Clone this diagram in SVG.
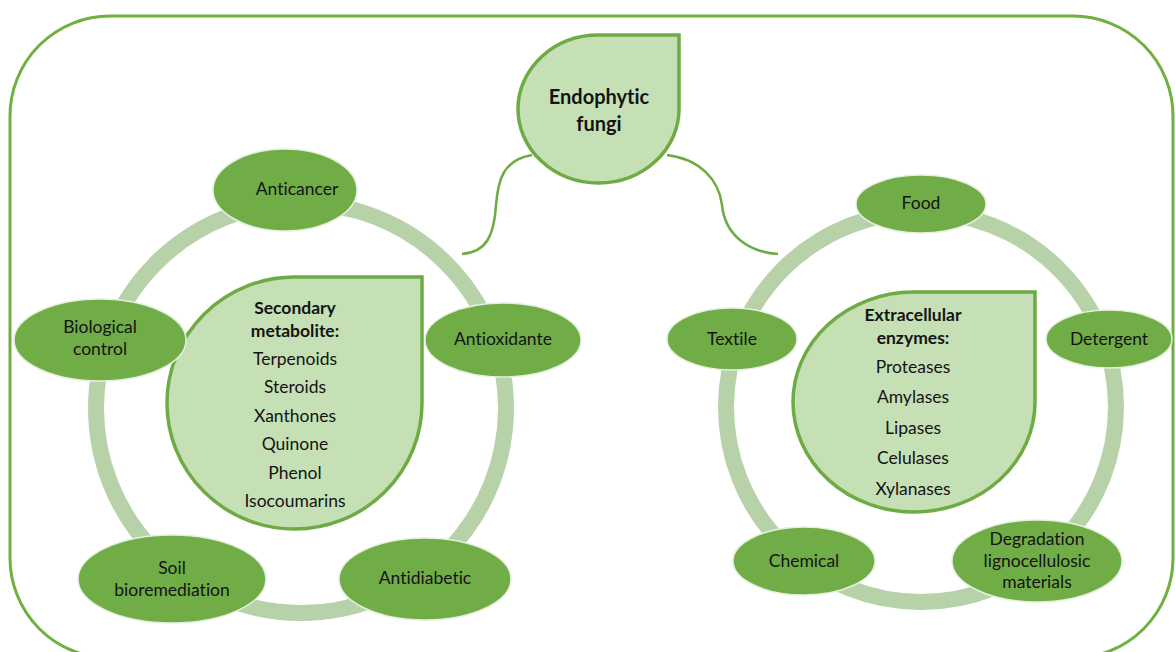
<svg xmlns="http://www.w3.org/2000/svg" width="1175" height="652" viewBox="0 0 1175 652">
  <defs>
    <style>
      .frame { fill: none; stroke: #6eb13f; stroke-width: 3; }
      .ring { fill: none; stroke: #b7d2a8; stroke-width: 16; }
      .conn { fill: none; stroke: #6eab44; stroke-width: 2.5; }
      .drop { fill: #c5e0b4; stroke: #6eab44; stroke-width: 3.5; }
      .oval { fill: #70ad47; stroke: #e6f0de; stroke-width: 1.5; }
      text { font-family: Lato, "Open Sans", "Liberation Sans", sans-serif; fill: #141414; text-anchor: middle; font-variant-ligatures: none; font-feature-settings: "liga" 0, "clig" 0, "dlig" 0; }
      .lbl { font-size: 17.5px; }
      .head { font-size: 17.5px; font-weight: bold; }
      .title { font-size: 20px; font-weight: bold; }
    </style>
  </defs>
  <rect class="frame" x="10" y="16" width="1163" height="642" rx="100" ry="100"/>
  <g id="rings">
    <circle class="ring" cx="301" cy="408" r="205"/>
    <circle class="ring" cx="921" cy="407" r="195"/>
  </g>
  <g id="connectors">
    <path class="conn" d="M532,155 C503,160 498,180 496,205 C494,235 487,252 462,254"/>
    <path class="conn" d="M667,155 C700,159 719,180 722,205 C725,235 748,252 778,254"/>
  </g>
  <g id="endophytic-fungi">
    <path class="drop" d="M598.5,35 L679,35 L679,109 A80.5 74 0 1 1 598.5 35 Z"/>
    <text class="title" x="599" y="104">Endophytic</text>
    <text class="title" x="599" y="131">fungi</text>
  </g>
  <g id="secondary-metabolite">
    <path class="drop" d="M294.5,277 L422,277 L422,403 A127.5 126 0 1 1 294.5 277 Z"/>
    <text class="head" x="295" y="314">Secondary</text>
    <text class="head" x="295" y="337">metabolite:</text>
    <text class="lbl" x="295" y="365">Terpenoids</text>
    <text class="lbl" x="295" y="393">Steroids</text>
    <text class="lbl" x="295" y="422">Xanthones</text>
    <text class="lbl" x="295" y="450">Quinone</text>
    <text class="lbl" x="295" y="479">Phenol</text>
    <text class="lbl" x="295" y="507">Isocoumarins</text>
  </g>
  <g id="extracellular-enzymes">
    <path class="drop" d="M913,292 L1035,292 L1035,402 A121 110 0 1 1 913 292 Z"/>
    <text class="head" x="913" y="321">Extracellular</text>
    <text class="head" x="913" y="344">enzymes:</text>
    <text class="lbl" x="913" y="373">Proteases</text>
    <text class="lbl" x="913" y="403">Amylases</text>
    <text class="lbl" x="913" y="434">Lipases</text>
    <text class="lbl" x="913" y="464">Celulases</text>
    <text class="lbl" x="913" y="495">Xylanases</text>
  </g>
  <g id="anticancer">
    <ellipse class="oval" cx="285" cy="190" rx="72" ry="41"/>
    <text class="lbl" x="297" y="195">Anticancer</text>
  </g>
  <g id="biological-control">
    <ellipse class="oval" cx="100" cy="340" rx="86" ry="41"/>
    <text class="lbl" x="100" y="333">Biological</text>
    <text class="lbl" x="100" y="355">control</text>
  </g>
  <g id="antioxidante">
    <ellipse class="oval" cx="503" cy="340" rx="78" ry="37"/>
    <text class="lbl" x="503" y="345">Antioxidante</text>
  </g>
  <g id="soil-bioremediation">
    <ellipse class="oval" cx="172" cy="579" rx="94" ry="44"/>
    <text class="lbl" x="172" y="574">Soil</text>
    <text class="lbl" x="172" y="596">bioremediation</text>
  </g>
  <g id="antidiabetic">
    <ellipse class="oval" cx="425" cy="579" rx="86" ry="41"/>
    <text class="lbl" x="425" y="584">Antidiabetic</text>
  </g>
  <g id="food">
    <ellipse class="oval" cx="921" cy="204" rx="65" ry="29"/>
    <text class="lbl" x="921" y="209">Food</text>
  </g>
  <g id="textile">
    <ellipse class="oval" cx="732" cy="339" rx="65" ry="31"/>
    <text class="lbl" x="732" y="345">Textile</text>
  </g>
  <g id="detergent">
    <ellipse class="oval" cx="1109" cy="339" rx="63" ry="29"/>
    <text class="lbl" x="1109" y="345">Detergent</text>
  </g>
  <g id="chemical">
    <ellipse class="oval" cx="804" cy="561" rx="71" ry="34"/>
    <text class="lbl" x="804" y="567">Chemical</text>
  </g>
  <g id="degradation">
    <ellipse class="oval" cx="1037" cy="561" rx="85" ry="41"/>
    <text class="lbl" x="1037" y="545">Degradation</text>
    <text class="lbl" x="1037" y="567">lignocellulosic</text>
    <text class="lbl" x="1037" y="588">materials</text>
  </g>
</svg>
